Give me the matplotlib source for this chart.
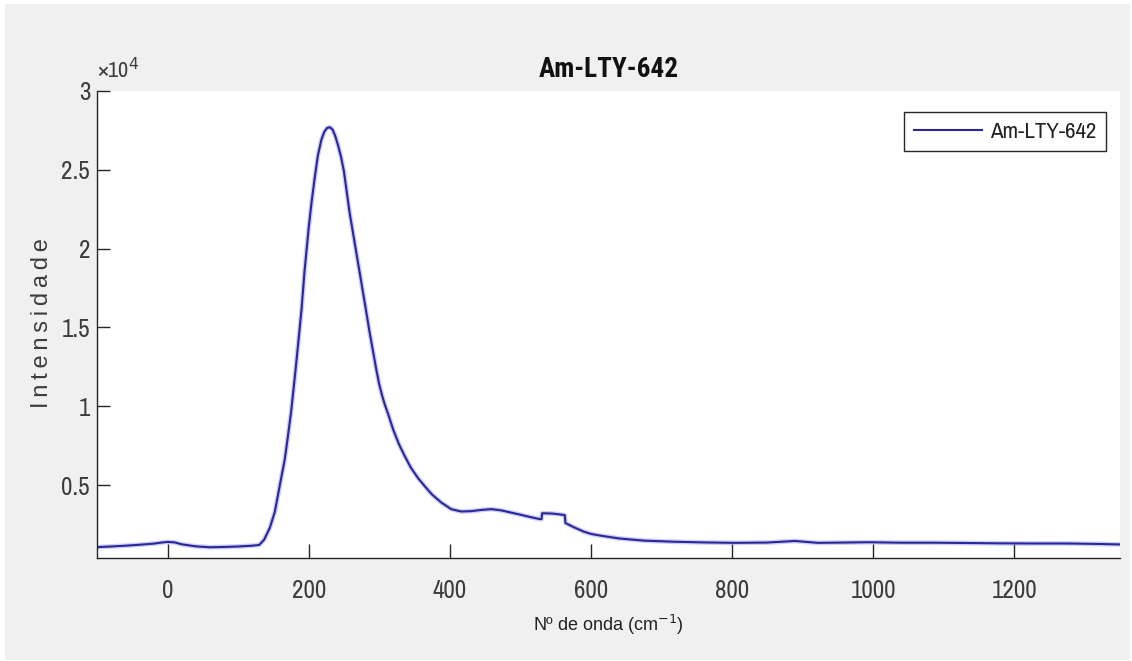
import matplotlib
matplotlib.use("Agg")
import matplotlib.pyplot as plt
from matplotlib.patches import Rectangle
from matplotlib.ticker import FixedLocator, FuncFormatter

# Raman spectrum of sample Am-LTY-642
wavenumber = [-100, -80, -60, -40, -20, -10, 0, 10, 20, 40, 60, 80, 100, 120, 130,
              137, 145, 152, 160, 166, 170, 175, 180, 185, 190, 194, 200, 204, 208,
              213, 218, 222, 226, 230, 234, 238, 242, 246, 250, 254, 258, 264, 270,
              276, 282, 286, 292, 296, 300, 304, 308, 312, 320, 328, 336, 345, 355,
              364, 375, 388, 402, 416, 430, 445, 459, 473, 485, 497, 512, 527, 530,
              531, 545, 555, 563, 564, 575, 590, 601, 615, 640, 676, 720, 757, 804,
              850, 889, 922, 960, 993, 1040, 1088, 1135, 1182, 1230, 1277, 1320, 1350]
intensity = [1070, 1110, 1160, 1220, 1290, 1350, 1400, 1370, 1250, 1120, 1060, 1080,
             1110, 1160, 1210, 1550, 2300, 3300, 5200, 6600, 7900, 9600, 11700, 13900,
             16200, 18500, 21300, 22900, 24300, 25900, 26900, 27400, 27650, 27700,
             27550, 27100, 26500, 25800, 24900, 23600, 22300, 20700, 19100, 17500,
             15900, 14800, 13300, 12300, 11400, 10700, 10100, 9600, 8500, 7600, 6860,
             6100, 5450, 4960, 4400, 3900, 3480, 3330, 3350, 3430, 3480, 3400, 3280,
             3160, 3000, 2850, 2850, 3220, 3200, 3150, 3100, 2600, 2350, 2050, 1900,
             1790, 1620, 1480, 1410, 1370, 1340, 1360, 1460, 1340, 1360, 1380, 1350,
             1350, 1330, 1310, 1300, 1300, 1270, 1240]

series_name = "Am-LTY-642"
x_ticks = [0, 200, 400, 600, 800, 1000, 1200]
y_ticks = [5000, 10000, 15000, 20000, 25000, 30000]

narrow = ["Archivo Narrow", "Liberation Sans", "DejaVu Sans"]
narrow_bold = ["Roboto Condensed", "IBM Plex Sans Condensed", "Liberation Sans"]
regular = ["Liberation Sans", "DejaVu Sans"]
ink = "#262626"
label_grey = "#3c3c3c"

fig = plt.figure(figsize=(11.32, 6.61), dpi=100, facecolor="white")
fig.patches.append(Rectangle((5 / 1132, 1 / 661), 1125 / 1132, 656 / 661,
                             transform=fig.transFigure, facecolor="#f0f0f0",
                             edgecolor="none", zorder=-10))

ax = fig.add_axes([97 / 1132, 1 - 558 / 661, (1120 - 97) / 1132, (558 - 91) / 661])
ax.set_facecolor("white")

# soft halo under the trace, then the trace itself
ax.plot(wavenumber, intensity, color="#7070e0", lw=3.4, alpha=0.35,
        solid_joinstyle="round")
ax.plot(wavenumber, intensity, color="#28289a", lw=1.5, label=series_name,
        solid_joinstyle="round")

ax.set_xlim(-100, 1350)
ax.set_ylim(380, 30000)

for side in ("top", "right"):
    ax.spines[side].set_visible(False)
for side in ("left", "bottom"):
    ax.spines[side].set_color(ink)
    ax.spines[side].set_linewidth(1.0)

ax.xaxis.set_major_locator(FixedLocator(x_ticks))
ax.yaxis.set_major_locator(FixedLocator(y_ticks))
ax.yaxis.set_major_formatter(FuncFormatter(lambda v, p: f"{v / 1e4:g}"))
ax.tick_params(axis="both", direction="in", colors=ink, width=1.0, labelsize=18)
ax.tick_params(axis="x", length=10, pad=15)
ax.tick_params(axis="y", length=9, pad=5)
for lab in ax.get_xticklabels() + ax.get_yticklabels():
    lab.set_family(narrow)
    lab.set_color(label_grey)

ax.text(0.0, 1.018, "×10$^{4}$", transform=ax.transAxes, ha="left", va="bottom",
        fontsize=16, family=narrow, color=label_grey)

ax.set_title(series_name, fontsize=19.5, fontweight="bold", family=narrow_bold,
             color="#111111", pad=10)

ax.set_xlabel("Nº de onda (cm$^{-1}$)", fontsize=13, family=regular,
              color="#222222", labelpad=8)
fig.text(42 / 1132, 1 - 323 / 661, "\u2009".join("Intensidade"), rotation=90,
         ha="center", va="center", fontsize=17, family=regular, color=label_grey)

leg = ax.legend(loc="upper right", bbox_to_anchor=(0.9865, 0.955),
                prop={"family": narrow, "size": 16.5}, frameon=True, fancybox=False,
                handlelength=3.0, handletextpad=0.35, borderpad=0.42,
                borderaxespad=0.0)
leg.get_frame().set_edgecolor(ink)
leg.get_frame().set_linewidth(1.0)
leg.get_frame().set_facecolor("white")
leg.get_frame().set_alpha(1)
for t in leg.get_texts():
    t.set_color("#222222")

fig.savefig("out.png", dpi=100, facecolor=fig.get_facecolor())
